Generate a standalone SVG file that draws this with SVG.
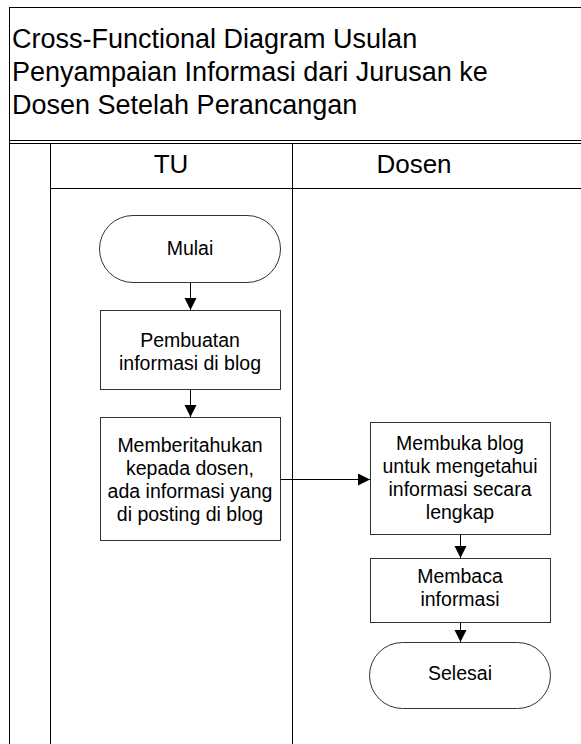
<svg xmlns="http://www.w3.org/2000/svg" width="581" height="744" viewBox="0 0 581 744">
  <style>
    .frame { fill: none; stroke: #000; stroke-width: 1; }
    .shape { fill: #fff; stroke: #333; stroke-width: 1; }
    .conn { fill: none; stroke: #000; stroke-width: 1; }
    .title { font-family: "Liberation Sans", Arial, sans-serif; font-size: 27px; fill: #000; }
    .lane { font-family: "Liberation Sans", Arial, sans-serif; font-size: 26px; fill: #000; text-anchor: middle; }
    .lbl { font-family: "Liberation Sans", Arial, sans-serif; font-size: 19.5px; fill: #000; text-anchor: middle; }
  </style>
  <defs>
    <marker id="arrow" markerUnits="userSpaceOnUse" markerWidth="12" markerHeight="13" refX="12" refY="6" orient="auto">
      <path d="M0,0 L12,6 L0,12 Z" fill="#000"/>
    </marker>
  </defs>
  <rect width="581" height="744" fill="#fff"/>

  <g id="pool">
    <rect class="frame" x="9.5" y="7.5" width="600" height="133"/>
    <line class="frame" x1="9.5" y1="143.5" x2="581" y2="143.5"/>
    <line class="frame" x1="9.5" y1="140" x2="9.5" y2="744"/>
    <line class="frame" x1="50.5" y1="143.5" x2="50.5" y2="744"/>
    <line class="frame" x1="292.5" y1="143.5" x2="292.5" y2="744"/>
    <line class="frame" x1="50.5" y1="188.5" x2="581" y2="188.5"/>
    <text class="title" x="12" y="48">Cross-Functional Diagram Usulan</text>
    <text class="title" x="12" y="81">Penyampaian Informasi dari Jurusan ke</text>
    <text class="title" x="12" y="114">Dosen Setelah Perancangan</text>
  </g>
  <g id="lane-tu">
    <text class="lane" x="171" y="173">TU</text>
  </g>
  <g id="lane-dosen">
    <text class="lane" x="414" y="173">Dosen</text>
  </g>

  <g id="connectors">
    <line class="conn" x1="190.5" y1="282" x2="190.5" y2="310" marker-end="url(#arrow)"/>
    <line class="conn" x1="190.5" y1="390" x2="190.5" y2="417" marker-end="url(#arrow)"/>
    <line class="conn" x1="280" y1="479.5" x2="370" y2="479.5" marker-end="url(#arrow)"/>
    <line class="conn" x1="460.5" y1="534" x2="460.5" y2="558" marker-end="url(#arrow)"/>
    <line class="conn" x1="460.5" y1="622" x2="460.5" y2="642" marker-end="url(#arrow)"/>
  </g>

  <g id="mulai">
    <rect class="shape" x="99.5" y="215.5" width="181" height="67" rx="33.5" ry="33.5"/>
    <text class="lbl" x="190" y="255">Mulai</text>
  </g>
  <g id="pembuatan">
    <rect class="shape" x="100.5" y="310.5" width="180" height="79"/>
    <text class="lbl" x="190" y="347">Pembuatan</text>
    <text class="lbl" x="190" y="370">informasi di blog</text>
  </g>
  <g id="memberitahukan">
    <rect class="shape" x="100.5" y="417.5" width="180" height="123"/>
    <text class="lbl" x="190" y="452">Memberitahukan</text>
    <text class="lbl" x="190" y="475">kepada dosen,</text>
    <text class="lbl" x="190" y="498">ada informasi yang</text>
    <text class="lbl" x="190" y="521">di posting di blog</text>
  </g>
  <g id="membuka">
    <rect class="shape" x="370.5" y="422.5" width="180" height="112"/>
    <text class="lbl" x="460" y="450">Membuka blog</text>
    <text class="lbl" x="460" y="473">untuk mengetahui</text>
    <text class="lbl" x="460" y="496">informasi secara</text>
    <text class="lbl" x="460" y="519">lengkap</text>
  </g>
  <g id="membaca">
    <rect class="shape" x="370.5" y="558.5" width="180" height="64"/>
    <text class="lbl" x="460" y="583">Membaca</text>
    <text class="lbl" x="460" y="606">informasi</text>
  </g>
  <g id="selesai">
    <rect class="shape" x="369.5" y="642.5" width="181" height="66" rx="33" ry="33"/>
    <text class="lbl" x="460" y="680">Selesai</text>
  </g>
</svg>
